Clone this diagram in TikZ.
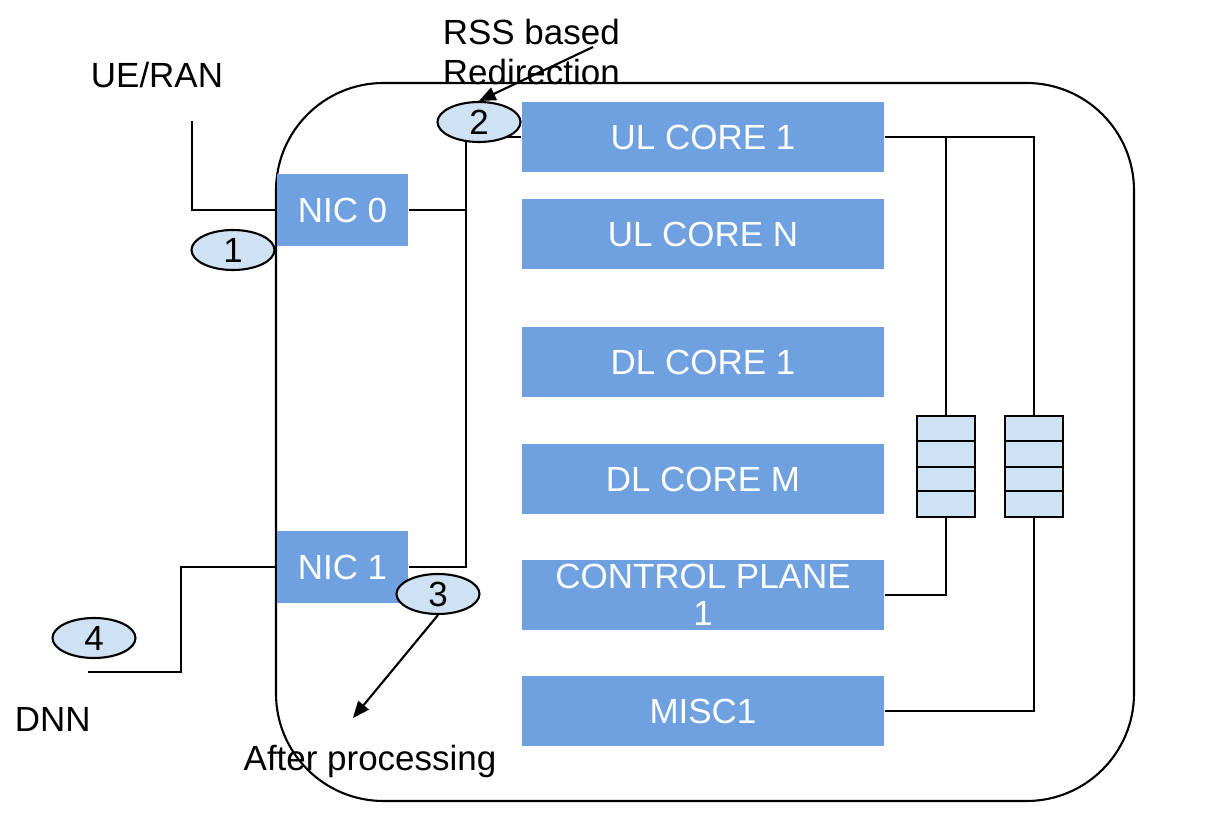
\documentclass[tikz,border=0pt]{standalone}
\usepackage{fontspec}
\setmainfont{Liberation Sans}
\usepackage{tikz}
\usetikzlibrary{positioning, arrows, shapes.geometric}
\definecolor{coreblue}{HTML}{6FA0DF}
\definecolor{tagblue}{HTML}{CFE2F3}

\begin{document}
\begin{tikzpicture}[x=0.02cm, y=-0.02cm, >=triangle 45, line width=1.2pt,
    font=\fontsize{19.9}{23.3}\selectfont,
    core/.style={rectangle, fill=coreblue, text=white, minimum width=7.24cm, minimum height=1.4cm, inner sep=0pt, align=center},
    nic/.style={rectangle, fill=coreblue, text=white, minimum width=2.62cm, minimum height=1.44cm, inner sep=0pt},
    tag/.style={ellipse, draw, fill=tagblue, minimum width=1.66cm, minimum height=0.8cm, inner sep=0pt},
    queue/.style={rectangle, draw, fill=tagblue, minimum width=1.16cm, minimum height=2.02cm, inner sep=0pt}]
    	\useasboundingbox (0,0) rectangle (1205,817);
    	% server box
    	\draw[rounded corners=2.15cm] (276,83) rectangle (1134,801);
    	% cores
    	\node[core] (ul1) at (703,137) {UL CORE 1};
    	\node[core] (uln) at (703,234) {UL CORE N};
    	\node[core] (dl1) at (703,362) {DL CORE 1};
    	\node[core] (dlm) at (703,479) {DL CORE M};
    	\node[core] (cp1) at (703,595) {CONTROL PLANE\\[-2pt]1};
    	\node[core] (misc) at (703,711) {MISC1};
    	\node[nic] (nic0) at (342.5,210) {NIC 0};
    	\node[nic] (nic1) at (342.5,567) {NIC 1};
    	\node[queue] (q1) at (946,466.5) {};
    	\node[queue] (q2) at (1034,466.5) {};
    	\foreach \q in {q1,q2}
    		\foreach \y in {441,467,491}
    			\draw (\q.west |- 0,\y) -- (\q.east |- 0,\y);
    	% texts
    	\node (ueran) at (157,75) {UE/RAN};
    	\node[anchor=west] (dnn) at (8,719) {DNN};
    	\node[anchor=west, align=left] (rss) at (436,52) {RSS based\\Redirection};
    	\node (after) at (370,761) {After processing};
    	\coordinate (ran) at (192,121);
    	\coordinate (dnnend) at (88,672);
    	\coordinate (bus) at (466,137);
    	\coordinate (rssend) at (593,47);
    	\coordinate (afterend) at (353,718);
    	% links
    	\draw (ran) |- (nic0.west);
    	\draw (nic0.east) -- (nic0.east -| bus);
    	\draw (nic1.east) -| (bus) -- (ul1.west);
    	\draw (nic1.west) -- ++(-95,0) |- (dnnend);
    	\draw (ul1.east) -| (q2.north);
    	\draw (q1.north) -- (q1.north |- ul1.east);
    	\draw (cp1.east) -| (q1.south);
    	\draw (misc.east) -| (q2.south);
    	% steps
    	\node[tag] (e1) at (233,250) {1};
    	\node[tag] (e2) at (479,122) {2};
    	\node[tag] (e3) at (438,594) {3};
    	\node[tag] (e4) at (94,638) {4};
    	\draw[->] (rssend) -- (e2.north);
    	\draw[->] (e3.south) -- (afterend);
    \end{tikzpicture}
\end{document}
